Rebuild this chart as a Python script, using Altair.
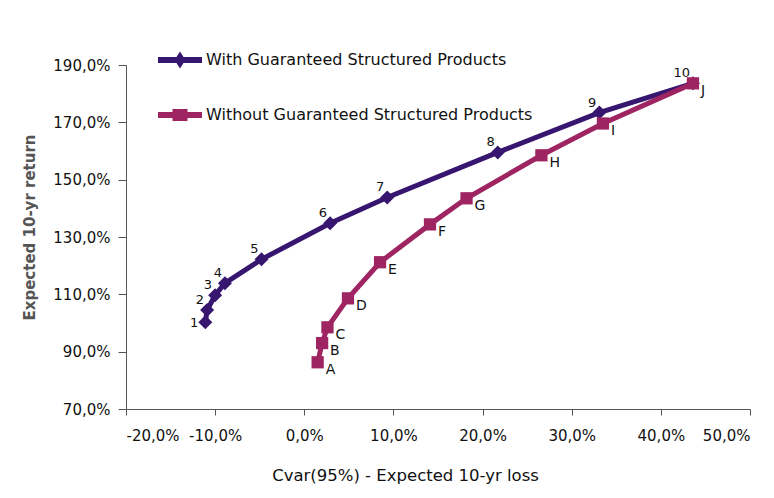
import altair as alt
import pandas as pd

series = ["With Guaranteed Structured Products", "Without Guaranteed Structured Products"]
colors = ["#371670", "#9E2462"]

with_x = [-11.1, -10.9, -10.0, -8.9, -4.8, 2.9, 9.3, 21.7, 33.1, 43.6]
with_y = [100.3, 104.5, 109.7, 113.9, 122.2, 134.8, 143.8, 159.5, 173.4, 183.6]
with_lbl = ["1", "2", "3", "4", "5", "6", "7", "8", "9", "10"]

without_x = [1.5, 2.0, 2.6, 4.9, 8.5, 14.1, 18.2, 26.6, 33.5, 43.6]
without_y = [86.3, 93.0, 98.5, 108.6, 121.2, 134.4, 143.5, 158.5, 169.6, 183.6]
without_lbl = ["A", "B", "C", "D", "E", "F", "G", "H", "I", "J"]

x_ticks = [-20, -10, 0, 10, 20, 30, 40, 50]
y_ticks = [70, 90, 110, 130, 150, 170, 190]

rows = []
for i, (x, y, l) in enumerate(zip(with_x, with_y, with_lbl)):
    rows.append({"x": x, "y": y, "label": l, "series": series[0], "idx": i})
for i, (x, y, l) in enumerate(zip(without_x, without_y, without_lbl)):
    rows.append({"x": x, "y": y, "label": l, "series": series[1], "idx": i})
df = pd.DataFrame(rows)

FONT = "DejaVu Sans"
label_expr = "(datum.value < 0 ? '-' : '') + replace(format(abs(datum.value), '.1f'), '.', ',') + '%'"

x_enc = alt.X(
    "x:Q",
    scale=alt.Scale(domain=[-20, 50], nice=False, zero=False),
    axis=alt.Axis(
        values=x_ticks, labelExpr=label_expr, grid=False, tickSize=6,
        labelPadding=13, title="Cvar(95%) - Expected 10-yr loss",
        titleX=279, titleY=58, titleFontSize=16.5, titleFontWeight="normal",
        titleColor="#111",
    ),
)
y_enc = alt.Y(
    "y:Q",
    scale=alt.Scale(domain=[70, 190], nice=False, zero=False),
    axis=alt.Axis(
        values=y_ticks, labelExpr=label_expr, grid=False, tickSize=8,
        labelPadding=8, title="Expected 10-yr return",
        titleX=-89, titleY=162, titleFontSize=15, titleFontWeight="bold",
        titleColor="#555",
    ),
)

# legend symbols: a thick line segment with the series marker on it
p_with = "M-2.2,-0.3H2.2V0.3H-2.2Z M-0.55,0L0,-0.85L0.55,0L0,0.85Z"
p_without = "M-2.2,-0.3H2.2V0.3H-2.2Z M-0.75,-0.6H0.75V0.6H-0.75Z"

legend = alt.Legend(
    orient="none", legendX=44, legendY=-15, title=None, padding=0,
    labelFontSize=16, labelFont=FONT, labelColor="#111", labelOffset=16,
    labelLimit=500, rowPadding=36, symbolSize=400, symbolStrokeWidth=0,
    symbolOpacity=1,
)

color_leg = alt.Color("series:N", scale=alt.Scale(domain=series, range=colors), legend=legend)
shape_leg = alt.Shape("series:N", scale=alt.Scale(domain=series, range=[p_with, p_without]), legend=legend)
color_none = alt.Color("series:N", scale=alt.Scale(domain=series, range=colors), legend=None)

base = alt.Chart(df)

legend_layer = base.mark_point(filled=True, size=400, opacity=0).encode(
    x=x_enc, y=y_enc, color=color_leg, shape=shape_leg)

line_w = base.transform_filter(alt.datum.series == series[0]).mark_line(strokeWidth=5).encode(
    x=x_enc, y=y_enc, color=color_none, order="idx:Q")
line_wo = base.transform_filter(alt.datum.series == series[1]).mark_line(strokeWidth=5).encode(
    x=x_enc, y=y_enc, color=color_none, order="idx:Q")
pts_w = base.transform_filter(alt.datum.series == series[0]).mark_point(
    shape="diamond", filled=True, size=196, opacity=1).encode(x=x_enc, y=y_enc, color=color_none)
pts_wo = base.transform_filter(alt.datum.series == series[1]).mark_point(
    shape="square", filled=True, size=150, opacity=1).encode(x=x_enc, y=y_enc, color=color_none)

# first numbered point: label on its left; the rest: above-left
txt_w_first = base.transform_filter(
    (alt.datum.series == series[0]) & (alt.datum.idx == 0)).mark_text(
    align="right", dx=-7, dy=1, fontSize=13, font=FONT, color="#111").encode(
    x=x_enc, y=y_enc, text="label:N")
txt_w = base.transform_filter(
    (alt.datum.series == series[0]) & (alt.datum.idx > 0)).mark_text(
    align="right", dx=-3, dy=-10, fontSize=13, font=FONT, color="#111").encode(
    x=x_enc, y=y_enc, text="label:N")
txt_wo = base.transform_filter(alt.datum.series == series[1]).mark_text(
    align="left", dx=8, dy=8, fontSize=14, font=FONT, color="#111").encode(
    x=x_enc, y=y_enc, text="label:N")

chart = alt.layer(legend_layer, line_w, line_wo, pts_w, pts_wo,
                  txt_w_first, txt_w, txt_wo).properties(
    width=624, height=344,
    padding={"left": 118, "top": 57, "right": 16, "bottom": 81},
    autosize=alt.AutoSizeParams(type="none"),
    background="white",
).configure_axis(
    domainColor="#555", tickColor="#555", labelColor="#111",
    labelFontSize=15, labelFont=FONT, titleFont=FONT,
).configure_view(strokeWidth=0)

chart.save("out.html", embed_options={"renderer": "svg", "actions": False})
